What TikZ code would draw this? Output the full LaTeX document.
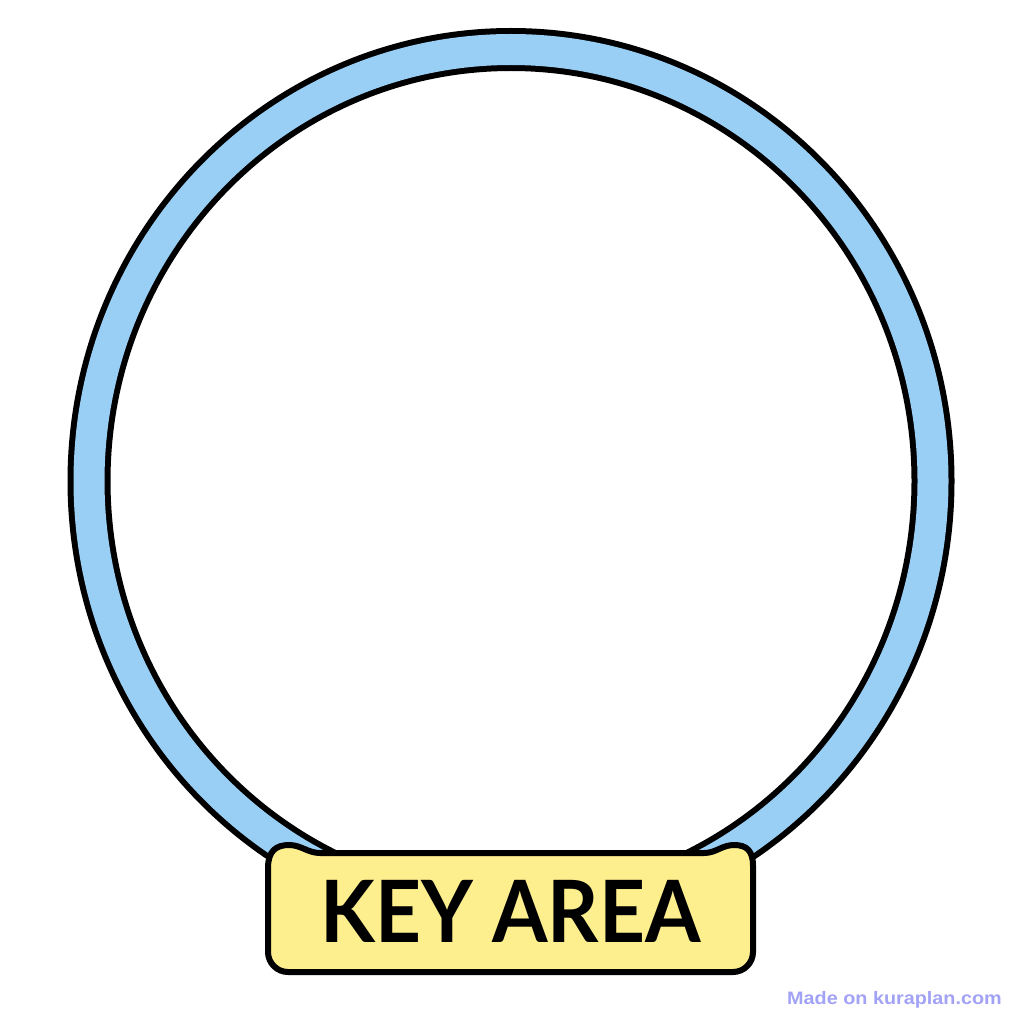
\documentclass[tikz,border=0pt]{standalone}
\usepackage{fontspec}
\setmainfont{Lato}
\newfontfamily\wmfont{Liberation Sans}
\definecolor{ringblue}{HTML}{9ACFF5}
\definecolor{labelyellow}{HTML}{FDEE8E}
\definecolor{wmcolor}{HTML}{A2A2F6}
\tikzset{
  ringout/.style={draw=black, line width=43pt},
  ringin/.style={draw=ringblue, line width=31pt},
  labelbox/.style={draw=black, fill=labelyellow, line width=6pt, line join=round},
  labeltext/.style={font=\fontsize{86}{86}\selectfont\bfseries, text=black, inner sep=0pt, xscale=0.93},
  wmtext/.style={font=\wmfont\fontsize{18}{18}\selectfont\bfseries, text=wmcolor, inner sep=0pt, xscale=1.1}
}
\begin{document}
\begin{tikzpicture}[x=1pt, y=-1pt]
  \useasboundingbox[fill=white] (0,0) rectangle (1024,1024);
  % ring
  \coordinate (rc) at (511,481);
  \draw[ringout] (rc) ellipse [x radius=422, y radius=431.5];
  \draw[ringin] (rc) ellipse [x radius=422, y radius=431.5];
  % label plate
  \path[labelbox] (268,952) -- (268,868)
    .. controls (268,851) and (276,845) .. (289,845)
    .. controls (301,845) and (308,853) .. (320,853)
    -- (704,853)
    .. controls (716,853) and (722,845) .. (734,845)
    .. controls (747,845) and (753,851) .. (753,866)
    -- (753,952)
    .. controls (753,963) and (744,972) .. (733,972)
    -- (288,972)
    .. controls (277,972) and (268,963) .. (268,952)
    -- cycle;
  \node[labeltext] (label) at (510.5,911.5) {KEY AREA};
  \node[wmtext] (wm) at (894.5,999.5) {Made on kuraplan.com};
\end{tikzpicture}
\end{document}
